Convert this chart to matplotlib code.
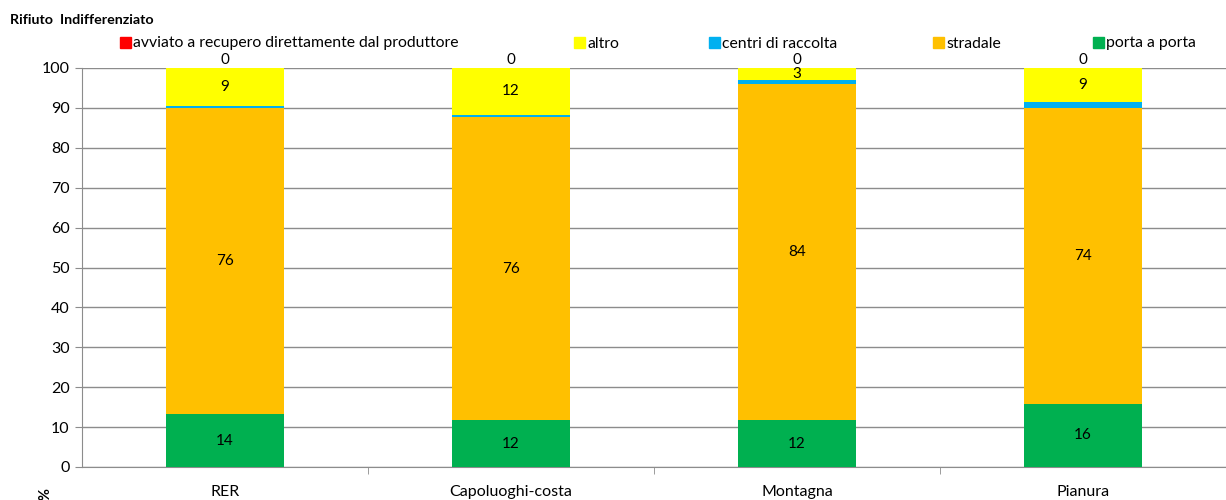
import matplotlib
matplotlib.use('Agg')
import matplotlib.pyplot as plt
from matplotlib.patches import Patch
import numpy as np

plt.rcParams['font.family'] = ['Lato', 'DejaVu Sans']

categories = ['RER', 'Capoluoghi-costa', 'Montagna', 'Pianura']

porta_a_porta = [13.2, 11.7, 11.7, 15.9]
stradale = [76.8, 75.9, 84.3, 74.1]
centri_raccolta = [0.6, 0.7, 0.9, 1.4]
altro = [9.4, 11.7, 3.1, 8.6]
avviato = [0.0, 0.0, 0.0, 0.0]

# numbers shown on the bars (as printed in the original)
lab_porta = ['14', '12', '12', '16']
lab_stradale = ['76', '76', '84', '74']
lab_altro = ['9', '12', '3', '9']
lab_avviato = ['0', '0', '0', '0']

series = [
    ('porta a porta', porta_a_porta, '#00b050', lab_porta),
    ('stradale', stradale, '#ffc000', lab_stradale),
    ('centri di raccolta', centri_raccolta, '#00b0f0', None),
    ('altro', altro, '#ffff00', lab_altro),
    ('avviato a recupero direttamente dal produttore', avviato, '#ff0000', lab_avviato),
]

fig = plt.figure(figsize=(12.26, 5.0), dpi=100)
ax = fig.add_axes([0.0669, 0.066, 0.9331, 0.798])

x = np.arange(len(categories))
bottom = np.zeros(len(categories))
for name, vals, color, labs in series:
    vals = np.array(vals)
    ax.bar(x, vals, 0.41, bottom=bottom, color=color, zorder=3, label=name)
    if labs is not None:
        for xi, b, v, t in zip(x, bottom, vals, labs):
            yc = b + v / 2
            if v == 0:
                yc = b + 2.1
            ax.text(xi, yc, t, ha='center', va='center', fontsize=11, zorder=4)
    bottom += vals

ax.set_xlim(-0.5, len(categories) - 0.5)
ax.set_ylim(0, 100)
ax.set_yticks(range(0, 101, 10))
ax.yaxis.grid(True, color='#8c8c8c', linewidth=1.0, zorder=0)
ax.set_axisbelow(True)
ax.set_xticks(x)
ax.set_xticklabels(categories)
ax.set_xticks(np.arange(0.5, len(categories) - 0.5, 1), minor=True)
ax.tick_params(axis='x', which='major', length=0, pad=13, labelsize=11.5)
ax.tick_params(axis='x', which='minor', length=5, color='#8c8c8c')
ax.tick_params(axis='y', length=5, color='#8c8c8c', labelsize=11.5, pad=4)
for s in ['top', 'right']:
    ax.spines[s].set_visible(False)
for s in ['left', 'bottom']:
    ax.spines[s].set_color('#8c8c8c')

fig.text(0.037, 0.0, '%', rotation=90, fontsize=10.5, fontweight='bold', ha='center', va='bottom')
fig.text(0.008, 0.96, 'Rifiuto  Indifferenziato', fontsize=10.3, fontweight='bold', ha='left', va='center')

# legend entries placed one by one, like the spreadsheet layout
legend_x = [120, 574, 709, 933, 1093]
for (name, _, color, _), lx in zip(series[::-1], legend_x):
    fig.legend([Patch(color=color)], [name], loc='center left',
               bbox_to_anchor=(lx / 1226, 0.913), frameon=False, fontsize=11.3,
               handlelength=0.7, handleheight=0.7, handletextpad=0.15,
               borderpad=0, borderaxespad=0)

fig.savefig('out.png', dpi=100)
